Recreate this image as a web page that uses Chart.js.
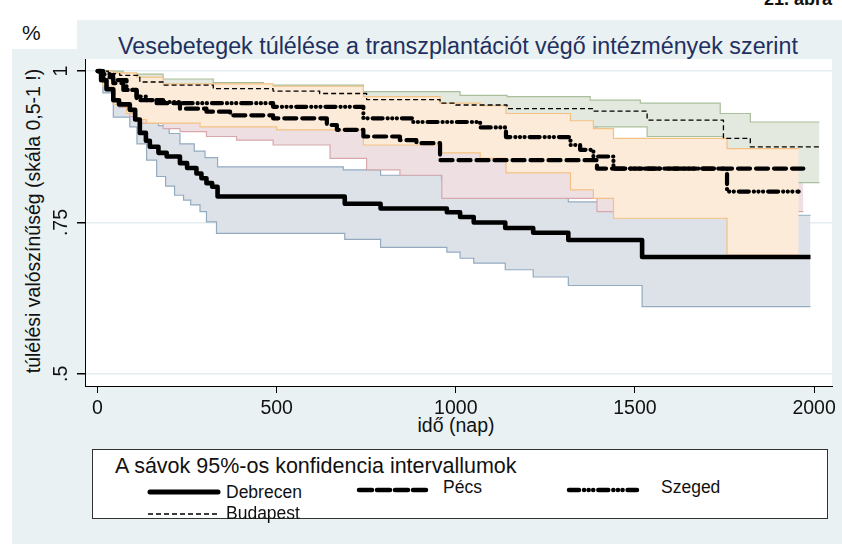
<!DOCTYPE html>
<html lang="hu">
<head>
<meta charset="UTF-8" />
<title>Vesebetegek túlélése</title>
<script src="https://cdn.jsdelivr.net/npm/chart.js"></script>
<style>
  body { margin:0; width:842px; height:544px; position:relative; overflow:hidden; background:#fff;
         font-family:"Liberation Sans", Arial, sans-serif; color:#111; }
  .bg { position:absolute; right:0; bottom:0; background:#e9f1f3; }
  .txt { position:absolute; white-space:nowrap; }
  #chart { position:absolute; left:0; top:0; }
  #legend { position:absolute; left:92px; top:449px; width:734px; height:68px; background:#fff; border:1px solid #333; }
  #legend .txt { font-size:17.5px; }
  #legend svg { position:absolute; overflow:visible; }
</style>
</head>
<body>
  <div class="bg" style="left:77px; top:20px;"></div>
  <div class="bg" style="left:12px; top:49px;"></div>
  <div class="txt" style="left:22px; top:21px; font-size:21px;">%</div>
  <div class="txt" style="left:764px; top:-11px; font-size:18px; font-weight:bold;">21. ábra</div>
  <div class="txt" style="left:458px; top:33px; font-size:23.3px; color:#1f3060; transform:translateX(-50%);">Vesebetegek túlélése a transzplantációt végő intézmények szerint</div>
  <div class="txt" style="left:33px; top:221px; font-size:19.5px; transform:translate(-50%,-50%) rotate(-90deg);">túlélési valószínűség (skála 0,5-1 !)</div>
  <div class="txt" style="left:456px; top:414px; font-size:19.5px; transform:translateX(-50%);">idő (nap)</div>

  <canvas id="chart" width="842" height="544"></canvas>

  <div id="legend">
    <div class="txt" style="left:22px; top:4px; font-size:21.5px;">A sávok 95%-os konfidencia intervallumok</div>
    <svg style="left:55px; top:40px;" width="72" height="4"><line x1="2" y1="2" x2="70" y2="2" stroke="#000" stroke-width="5" stroke-linecap="round"/></svg>
    <div class="txt" style="left:133px; top:32px;">Debrecen</div>
    <svg style="left:264px; top:38px;" width="72" height="4"><line x1="2" y1="2" x2="70" y2="2" stroke="#000" stroke-width="4.5" stroke-linecap="round" stroke-dasharray="13 5"/></svg>
    <div class="txt" style="left:350px; top:27px;">Pécs</div>
    <svg style="left:474px; top:38px;" width="72" height="4"><line x1="2" y1="2" x2="70" y2="2" stroke="#000" stroke-width="4.5" stroke-linecap="round" stroke-dasharray="10 5 0.1 4.5 0.1 4.5 0.1 5"/></svg>
    <div class="txt" style="left:568px; top:27px;">Szeged</div>
    <svg style="left:55px; top:62px;" width="72" height="4"><line x1="0" y1="2" x2="72" y2="2" stroke="#000" stroke-width="1.3" stroke-dasharray="5 3"/></svg>
    <div class="txt" style="left:133px; top:53px;">Budapest</div>
  </div>

<script>
// tick labels
const xTicks = [0, 500, 1000, 1500, 2000];
const yTicks = [0.5, 0.75, 1];
const yTickLabels = ['.5', '.75', '1'];

// Kaplan-Meier curves: [nap, túlélés]
const debrecen = [[0,1],[10,0.985],[25,0.97],[44,0.952],[60,0.945],[90,0.936],[105,0.92],[118,0.898],[135,0.885],[146,0.875],[170,0.865],[193,0.859],[230,0.848],[250,0.84],[276,0.831],[290,0.823],[304,0.815],[320,0.809],[335,0.793],[690,0.781],[790,0.773],[975,0.767],[1012,0.759],[1050,0.75],[1138,0.741],[1216,0.733],[1314,0.721],[1520,0.693],[1990,0.693]];
const pecs = [[0,1],[15,0.99],[44,0.98],[72,0.969],[109,0.952],[165,0.947],[230,0.938],[304,0.933],[370,0.927],[490,0.922],[640,0.911],[668,0.903],[742,0.892],[844,0.886],[890,0.881],[956,0.853],[1394,0.839],[1970,0.839]];
const szeged = [[0,1],[15,0.995],[44,0.985],[81,0.969],[109,0.958],[137,0.952],[183,0.949],[230,0.947],[490,0.941],[742,0.922],[880,0.916],[1068,0.907],[1140,0.891],[1320,0.878],[1347,0.87],[1384,0.859],[1440,0.839],[1757,0.801],[1957,0.801]];
const budapest = [[0,1],[30,0.996],[62,0.993],[118,0.982],[183,0.977],[323,0.971],[490,0.967],[620,0.963],[751,0.953],[956,0.947],[1000,0.944],[1143,0.938],[1384,0.934],[1534,0.919],[1747,0.889],[1822,0.875],[2015,0.875]];

// 95% confidence bands
const debrecenHi = [[0,1],[15,0.99],[40,0.98],[70,0.97],[100,0.955],[120,0.94],[145,0.925],[170,0.91],[200,0.897],[230,0.88],[270,0.868],[300,0.857],[335,0.842],[686,0.837],[790,0.828],[960,0.82],[1012,0.812],[1050,0.805],[1138,0.798],[1216,0.79],[1314,0.784],[1520,0.762],[1990,0.762]];
const debrecenLo = [[0,1],[15,0.964],[44,0.924],[90,0.908],[110,0.88],[137,0.853],[165,0.826],[190,0.81],[215,0.795],[240,0.787],[260,0.779],[286,0.768],[304,0.751],[332,0.732],[690,0.722],[790,0.709],[975,0.701],[1012,0.691],[1050,0.683],[1138,0.672],[1216,0.66],[1314,0.646],[1520,0.611],[1990,0.611]];
const pecsHi = [[0,1],[44,0.995],[109,0.98],[230,0.97],[490,0.96],[640,0.952],[742,0.94],[956,0.915],[1394,0.885],[1970,0.885]];
const pecsLo = [[0,1],[15,0.98],[39,0.963],[60,0.94],[90,0.925],[118,0.914],[183,0.905],[230,0.9],[304,0.892],[388,0.886],[490,0.878],[649,0.856],[751,0.837],[844,0.828],[961,0.79],[1394,0.768],[1970,0.768]];
const szegedHi = [[0,1],[44,0.997],[109,0.99],[183,0.979],[490,0.975],[742,0.958],[956,0.947],[1068,0.943],[1140,0.93],[1320,0.918],[1384,0.905],[1440,0.889],[1757,0.872],[1957,0.872]];
const szegedLo = [[0,1],[15,0.975],[44,0.945],[81,0.93],[109,0.92],[137,0.914],[286,0.908],[500,0.903],[742,0.878],[956,0.865],[1068,0.856],[1140,0.832],[1320,0.804],[1384,0.79],[1440,0.757],[1757,0.696],[1957,0.696]];
const budapestHi = [[0,1],[72,0.995],[183,0.987],[323,0.981],[463,0.977],[742,0.966],[1012,0.96],[1143,0.958],[1375,0.952],[1515,0.947],[1738,0.93],[1822,0.916],[2015,0.916]];
const budapestLo = [[0,1],[30,0.99],[62,0.983],[118,0.97],[183,0.963],[323,0.957],[490,0.952],[751,0.937],[956,0.93],[1143,0.921],[1320,0.908],[1534,0.892],[1747,0.853],[1822,0.816],[2015,0.816]];

const pts = a => a.map(p => ({x: p[0], y: p[1]}));

function curve(label, data, width, dash, order) {
  return { label, data: pts(data), borderColor: '#000', borderWidth: width, borderDash: dash,
           borderCapStyle: dash.length && width > 2 ? 'round' : 'butt', borderJoinStyle: 'round',
           stepped: true, pointRadius: 0, fill: false, order };
}
function band(hi, lo, line, fillColor, order) {
  return [
    { data: pts(hi), borderColor: line, borderWidth: 1.2, stepped: true, pointRadius: 0,
      fill: { target: '+1' }, backgroundColor: fillColor, order: order + 0.5 },
    { data: pts(lo), borderColor: line, borderWidth: 1.2, stepped: true, pointRadius: 0,
      fill: false, order: order }
  ];
}

const datasets = [
  curve('Budapest', budapest, 1.3, [5, 3], 0),
  curve('Szeged', szeged, 4.2, [10, 5, 0.1, 4.5, 0.1, 4.5, 0.1, 5], 1),
  curve('Pécs', pecs, 4.2, [12, 6], 2),
  curve('Debrecen', debrecen, 4.6, [], 3),
  ...band(szegedHi, szegedLo, '#f3c183', '#fcebd9', 10),
  ...band(budapestHi, budapestLo, '#a9be9a', '#e4e9df', 11),
  ...band(pecsHi, pecsLo, '#d6a8ac', '#eee0e2', 12),
  ...band(debrecenHi, debrecenLo, '#93aac1', '#dde2e9', 13)
];

const plotBg = {
  id: 'plotBg',
  beforeDraw(chart) {
    const a = chart.chartArea, ctx = chart.ctx;
    ctx.save();
    ctx.fillStyle = '#fff';
    ctx.fillRect(a.left, a.top, a.right - a.left, a.bottom - a.top);
    ctx.restore();
  },
  afterDraw(chart) {
    const ctx = chart.ctx, y = chart.scales.y;
    ctx.save();
    ctx.fillStyle = '#111';
    ctx.font = '19.5px "Liberation Sans", Arial, sans-serif';
    ctx.textAlign = 'center';
    ctx.textBaseline = 'middle';
    yTicks.forEach((v, i) => {
      ctx.save();
      ctx.translate(62, y.getPixelForValue(v));
      ctx.rotate(-Math.PI / 2);
      ctx.fillText(yTickLabels[i], 0, 0);
      ctx.restore();
    });
    ctx.restore();
  }
};

new Chart(document.getElementById('chart'), {
  type: 'line',
  data: { datasets },
  options: {
    responsive: false,
    animation: false,
    layout: { padding: { left: 0, top: 59, right: 10, bottom: 0 } },
    plugins: { legend: { display: false }, tooltip: { enabled: false } },
    scales: {
      x: {
        type: 'linear', min: -35, max: 2050,
        afterBuildTicks: s => { s.ticks = xTicks.map(v => ({ value: v })); },
        afterFit: s => { s.height = 158; },
        ticks: { color: '#111', font: { family: '"Liberation Sans", Arial, sans-serif', size: 19.5 }, padding: 4, maxRotation: 0,
                 callback: v => String(v) },
        grid: { drawOnChartArea: false, tickLength: 7, tickColor: '#000' },
        border: { color: '#000', width: 1 }
      },
      y: {
        type: 'linear', min: 0.48, max: 1.02,
        afterBuildTicks: s => { s.ticks = yTicks.map(v => ({ value: v })); },
        afterFit: s => { s.width = 85; },
        ticks: { display: false },
        grid: { color: '#e4edf0', lineWidth: 1.5, tickLength: 8, tickColor: '#000' },
        border: { color: '#000', width: 1 }
      }
    }
  },
  plugins: [plotBg]
});
</script>
</body>
</html>
